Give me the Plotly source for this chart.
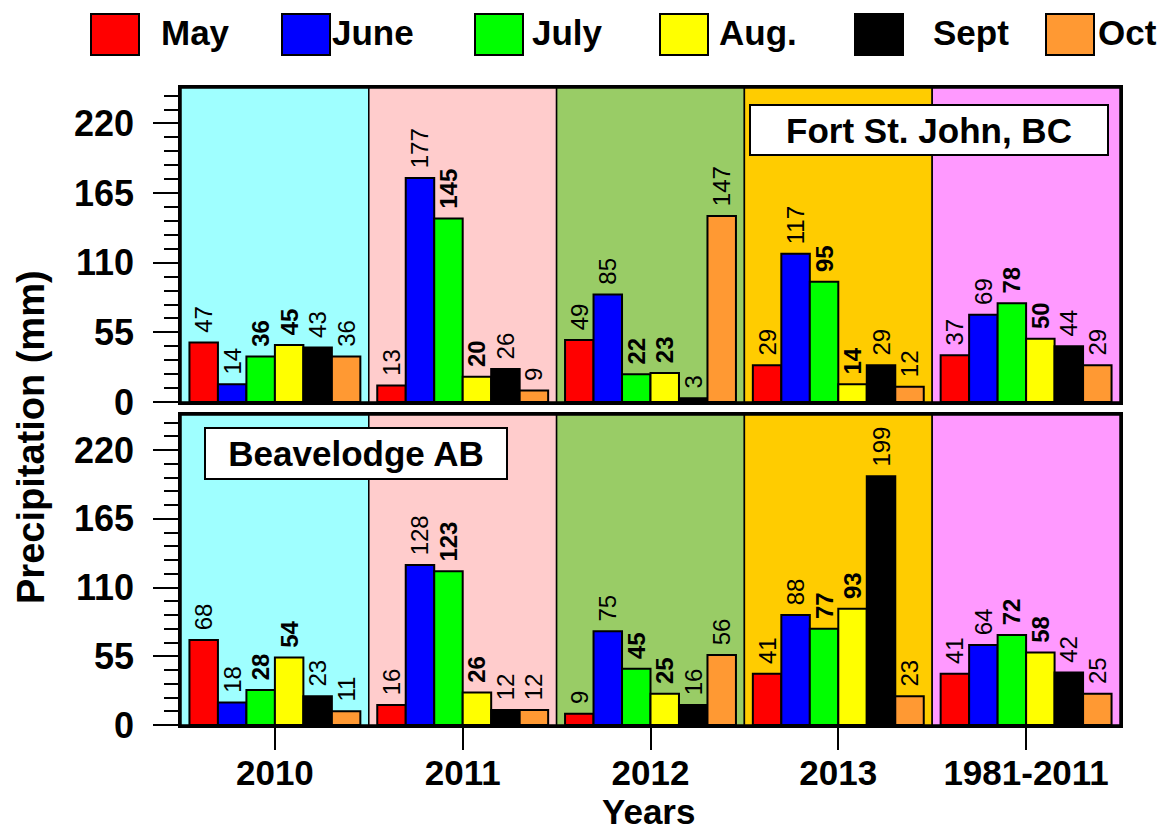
import plotly.graph_objects as go

# ---------------- data ----------------
periods = ["2010", "2011", "2012", "2013", "1981-2011"]
months = ["May", "June", "July", "Aug.", "Sept", "Oct"]

# Fort St. John, BC (top panel)
fsj_may = [47, 13, 49, 29, 37]
fsj_june = [14, 177, 85, 117, 69]
fsj_july = [36, 145, 22, 95, 78]
fsj_aug = [45, 20, 23, 14, 50]
fsj_sept = [43, 26, 3, 29, 44]
fsj_oct = [36, 9, 147, 12, 29]

# Beaverlodge AB (bottom panel)
bvl_may = [68, 16, 9, 41, 41]
bvl_june = [18, 128, 75, 88, 64]
bvl_july = [28, 123, 45, 77, 72]
bvl_aug = [54, 26, 25, 93, 58]
bvl_sept = [23, 12, 16, 199, 42]
bvl_oct = [11, 12, 56, 23, 25]

y_ticks = [0, 55, 110, 165, 220]

# ---------------- styles ----------------
month_colors = ["#FF0000", "#0000FF", "#00FF00", "#FFFF00", "#000000", "#FF9933"]
bold_months = ["July", "Aug."]
period_colors = ["#9FFFFF", "#FFCCCC", "#99CC66", "#FFCC00", "#FF99FF"]
FONT = "Liberation Sans, Arial, sans-serif"

# pixel -> paper helpers (plot area: x 181..1120, y 88..725)
L, R, T, B = 181, 1120, 88, 725
def px(x):
    return (x - L) / (R - L)
def py(y):
    return (B - y) / (B - T)

fsj = [fsj_may, fsj_june, fsj_july, fsj_aug, fsj_sept, fsj_oct]
bvl = [bvl_may, bvl_june, bvl_july, bvl_aug, bvl_sept, bvl_oct]

fig = go.Figure()
for panel, (data, xa, ya) in enumerate([(fsj, "x", "y"), (bvl, "x2", "y2")]):
    for m, vals, col in zip(months, data, month_colors):
        bold = m in bold_months
        fig.add_trace(go.Bar(
            x=periods, y=vals, name=m, xaxis=xa, yaxis=ya,
            marker=dict(color=col, line=dict(color="black", width=2)),
            text=vals, textposition="outside", textangle=-90,
            texttemplate="\u00a0<b>%{y}</b>" if bold else "\u00a0%{y}",
            textfont=dict(family=FONT, size=24, color="black"),
            cliponaxis=False, constraintext="none",
            showlegend=False,
        ))

shapes = []
# coloured period backgrounds
for yref in ["y domain", "y2 domain"]:
    xref = "x" if yref == "y domain" else "x2"
    for i, c in enumerate(period_colors):
        shapes.append(dict(type="rect", xref=xref, yref=yref,
                           x0=i - 0.5, x1=i + 0.5, y0=0, y1=1,
                           fillcolor=c, line=dict(color="black", width=1.5),
                           layer="below"))

annotations = []
# custom legend (large square swatches)
sw_left = [91, 282, 475, 660, 855, 1046]
txt_left = [159, 330, 530, 717, 931, 1096]
for m, col, sx, tx in zip(months, month_colors, sw_left, txt_left):
    shapes.append(dict(type="rect", xref="paper", yref="paper",
                       x0=px(sx), x1=px(sx + 48), y0=py(55), y1=py(14),
                       fillcolor=col, line=dict(color="black", width=2)))
    annotations.append(dict(xref="paper", yref="paper", x=px(tx), y=py(33),
                            xanchor="left", yanchor="middle", text=m, showarrow=False,
                            font=dict(family=FONT, size=35, color="black", weight="bold")))

# station labels
annotations.append(dict(xref="paper", yref="paper", x=px(929), y=py(130),
                        xanchor="center", yanchor="middle", text="Fort St. John, BC",
                        showarrow=False, width=352, height=44, bgcolor="white",
                        bordercolor="black", borderwidth=2, borderpad=2,
                        font=dict(family=FONT, size=35, color="black", weight="bold")))
annotations.append(dict(xref="paper", yref="paper", x=px(356), y=py(453),
                        xanchor="center", yanchor="middle", text="Beavelodge AB",
                        showarrow=False, width=296, height=45, bgcolor="white",
                        bordercolor="black", borderwidth=2, borderpad=2,
                        font=dict(family=FONT, size=35, color="black", weight="bold")))
# axis titles
annotations.append(dict(xref="paper", yref="paper", x=px(31), y=py(437),
                        xanchor="center", yanchor="middle", textangle=-90,
                        text="Precipitation (mm)", showarrow=False,
                        font=dict(family=FONT, size=38, color="black", weight="bold")))
annotations.append(dict(xref="paper", yref="paper", x=px(648), y=py(812),
                        xanchor="center", yanchor="middle", text="Years", showarrow=False,
                        font=dict(family=FONT, size=35, color="black", weight="bold")))

yax = dict(range=[0, 248], tickmode="array", tickvals=y_ticks, ticktext=[str(v) for v in y_ticks],
           ticks="outside", ticklen=25, tickwidth=2, tickcolor="black",
           tickfont=dict(family=FONT, size=36, color="black", weight="bold"),
           ticklabelstandoff=12,
           minor=dict(tickmode="linear", tick0=0, dtick=11, ticks="outside", ticklen=14,
                      tickwidth=1.5, tickcolor="black", showgrid=False),
           showline=True, mirror=True, linecolor="black", linewidth=2.5,
           showgrid=False, zeroline=False, fixedrange=True)

xax = dict(type="category", range=[-0.5, 4.5], showline=True, mirror=True,
           linecolor="black", linewidth=2.5, showgrid=False, zeroline=False)

fig.update_layout(
    width=1171, height=830,
    margin=dict(l=L, r=1171 - R, t=T, b=830 - B),
    paper_bgcolor="white", plot_bgcolor="white",
    barmode="group", bargap=0.09, bargroupgap=0,
    font=dict(family=FONT, color="black"),
    xaxis=dict(**xax, domain=[0, 1], anchor="y", matches="x2", showticklabels=False, ticks=""),
    xaxis2=dict(**xax, domain=[0, 1], anchor="y2", ticks="outside", ticklen=22, tickwidth=2,
                tickcolor="black", ticklabelstandoff=-7,
                tickfont=dict(family=FONT, size=35, color="black", weight="bold")),
    yaxis=dict(**yax, domain=[py(402), 1], anchor="x"),
    yaxis2=dict(**yax, domain=[0, py(415)], anchor="x2"),
    shapes=shapes, annotations=annotations, showlegend=False,
)

fig.write_html("out.html", config={"displayModeBar": False},
               post_script="document.body.style.margin='0';")
